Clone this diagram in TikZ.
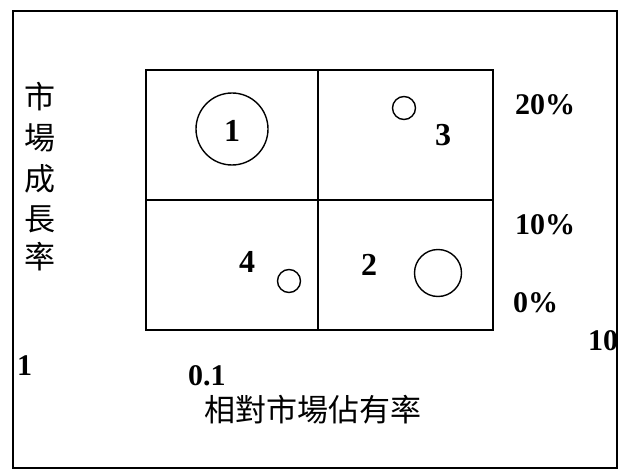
\documentclass[tikz,border=0pt]{standalone}
\usepackage{fontspec}
\setmainfont{Liberation Serif}
\newfontfamily\cjk{Noto Sans CJK TC}
\begin{document}
\begin{tikzpicture}[x=1pt,y=-1pt,
  ln/.style={line width=1.4pt,black},
  num/.style={font=\fontsize{32}{32}\selectfont\bfseries,inner sep=0pt},
  lbl/.style={font=\fontsize{30}{30}\selectfont\bfseries,inner sep=0pt,anchor=west},
  cj/.style={font=\cjk\fontsize{31}{31}\selectfont,inner sep=0pt},
  bub/.style={circle,draw,line width=1.4pt,inner sep=0pt}]
\useasboundingbox (0,0) rectangle (620,473);
% outer frame
\draw[ln] (13,11) rectangle (617,468);
% matrix grid
\coordinate (tl) at (146,70);
\coordinate (br) at (493,330);
\coordinate (mt) at (318,70);
\coordinate (mb) at (318,330);
\coordinate (ml) at (146,200);
\coordinate (mr) at (493,200);
\draw[ln] (tl) rectangle (br);
\draw[ln] (mt) -- (mb);
\draw[ln] (ml) -- (mr);
% bubbles
\node[bub,minimum size=72pt] (c1) at (232,129) {};
\node[num] (n1) at (232,131) {1};
\node[bub,minimum size=23pt] (c3) at (404,108) {};
\node[num] (n3) at (443,135) {3};
\node[num] (n4) at (247,262) {4};
\node[bub,minimum size=23pt] (c4) at (289,281) {};
\node[num] (n2) at (369,265) {2};
\node[bub,minimum size=47pt] (c2) at (438,273) {};
% right axis labels
\node[lbl] (p20) at (515,105) {20\%};
\node[lbl] (p10) at (515,225) {10\%};
\node[lbl] (p0) at (513,303) {0\%};
\node[lbl] (x10) at (588,341) {10};
% bottom axis labels
\node[lbl] (x1) at (17,366) {1};
\node[lbl] (x01) at (188,376) {0.1};
\node[cj] (xt) at (313,410) {相對市場佔有率};
% vertical title
\node[cj] (y1) at (40,97) {市};
\node[cj] (y2) at (40,138) {場};
\node[cj] (y3) at (40,179) {成};
\node[cj] (y4) at (40,219) {長};
\node[cj] (y5) at (40,257) {率};
\end{tikzpicture}
\end{document}
